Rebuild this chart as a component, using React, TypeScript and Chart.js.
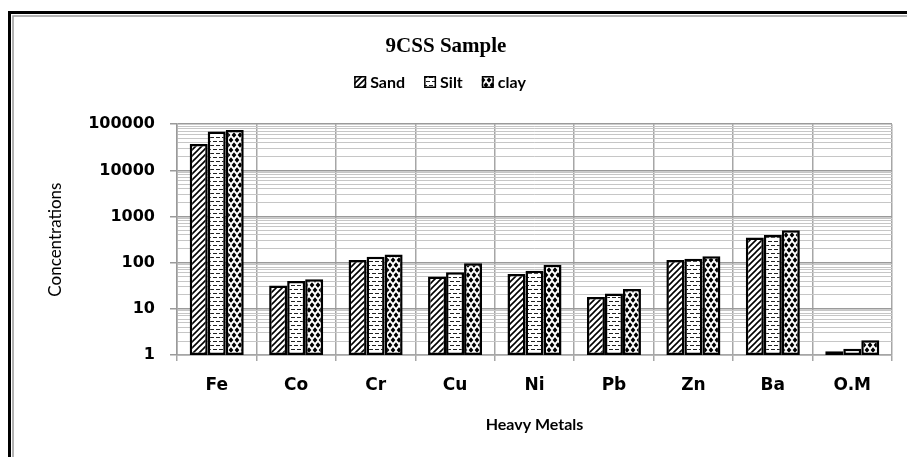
import React, { useEffect, useRef } from "react";
import { Chart, registerables } from "chart.js";
Chart.register(...registerables);

const categories = ["Fe", "Co", "Cr", "Cu", "Ni", "Pb", "Zn", "Ba", "O.M"];
const seriesNames = ["Sand", "Silt", "clay"];
const sandValues = [37400, 32, 114, 50, 57, 18, 114, 353, 1.2];
const siltValues = [69500, 40, 134, 62, 67, 21.6, 122, 400, 1.37];
const clayValues = [75000, 44, 151, 97, 90, 27, 138, 507, 2.08];
const majorTicks = [1, 10, 100, 1000, 10000, 100000];
const minorSteps = [1, 2, 3, 4, 5, 6, 7, 8, 9];
const chartTitle = "9CSS Sample";
const xAxisTitle = "Heavy Metals";
const yAxisTitle = "Concentrations";

function makePattern(kind: string): CanvasPattern | string {
  const c = document.createElement("canvas");
  const w = kind === "diamond" ? 6 : 6;
  const h = kind === "diamond" ? 10 : kind === "dash" ? 8 : 6;
  c.width = w;
  c.height = h;
  const g = c.getContext("2d");
  if (!g) return "#fff";
  g.fillStyle = "#fff";
  g.fillRect(0, 0, w, h);
  if (kind === "hatch") {
    g.strokeStyle = "#000";
    g.lineWidth = 1.6;
    g.beginPath();
    g.moveTo(-3, 3); g.lineTo(3, -3);
    g.moveTo(0, 6); g.lineTo(6, 0);
    g.moveTo(3, 9); g.lineTo(9, 3);
    g.stroke();
  } else if (kind === "dash") {
    g.fillStyle = "#222";
    g.fillRect(0, 1, 4, 1);
    g.fillRect(3, 5, 3, 1);
    g.fillRect(0, 5, 1, 1);
  } else {
    g.fillStyle = "#000";
    const diamond = (cx: number, cy: number) => {
      g.beginPath();
      g.moveTo(cx, cy - 2.7);
      g.lineTo(cx + 2.4, cy);
      g.lineTo(cx, cy + 2.7);
      g.lineTo(cx - 2.4, cy);
      g.closePath();
      g.fill();
    };
    diamond(3, 0);
    diamond(3, 10);
    diamond(0, 5);
    diamond(6, 5);
  }
  const ctx2 = document.createElement("canvas").getContext("2d");
  return ctx2 ? (ctx2.createPattern(c, "repeat") as CanvasPattern) : "#fff";
}

const framePlugin = {
  id: "frameAndLegend",
  beforeDraw(chart: any) {
    const ctx = chart.ctx;
    ctx.save();
    ctx.fillStyle = "#fff";
    ctx.fillRect(0, 0, chart.width, chart.height);
    ctx.strokeStyle = "#000";
    ctx.lineWidth = 3;
    ctx.beginPath();
    ctx.moveTo(9.5, chart.height);
    ctx.lineTo(9.5, 12.5);
    ctx.lineTo(chart.width, 12.5);
    ctx.stroke();
    ctx.strokeStyle = "#9a9a9a";
    ctx.lineWidth = 1.5;
    ctx.beginPath();
    ctx.moveTo(13, chart.height);
    ctx.lineTo(13, 16);
    ctx.lineTo(chart.width, 16);
    ctx.stroke();
    ctx.restore();
  },
  afterDraw(chart: any) {
    const ctx = chart.ctx;
    ctx.save();
    ctx.font = "bold 16px Lato";
    ctx.textBaseline = "middle";
    ctx.textAlign = "left";
    const box = 12;
    const gap = 4;
    const spacing = 19;
    const items = chart.data.datasets.map((ds: any) => ({
      label: ds.label,
      fill: ds.backgroundColor,
      w: box + gap + ctx.measureText(ds.label).width,
    }));
    const total = items.reduce((s: number, it: any) => s + it.w, 0) + spacing * (items.length - 1);
    let x = 440 - total / 2;
    const y = 82;
    for (const it of items) {
      ctx.fillStyle = it.fill;
      ctx.fillRect(x, y - box / 2, box, box);
      ctx.strokeStyle = "#000";
      ctx.lineWidth = 1.5;
      ctx.strokeRect(x + 0.75, y - box / 2 + 0.75, box - 1.5, box - 1.5);
      ctx.fillStyle = "#000";
      ctx.fillText(it.label, x + box + gap, y + 1);
      x += it.w + spacing;
    }
    ctx.restore();
  },
};

export default function App() {
  const ref = useRef<HTMLCanvasElement>(null);
  useEffect(() => {
    if (!ref.current) return;
    const patterns = [makePattern("hatch"), makePattern("dash"), makePattern("diamond")];
    const values = [sandValues, siltValues, clayValues];
    const tickValues: number[] = [];
    for (let k = 0; k < majorTicks.length - 1; k++) {
      for (const m of minorSteps) tickValues.push(m * majorTicks[k]);
    }
    tickValues.push(majorTicks[majorTicks.length - 1]);

    const chart = new Chart(ref.current, {
      type: "bar",
      data: {
        labels: categories,
        datasets: seriesNames.map((name, i) => ({
          label: name,
          data: values[i],
          backgroundColor: patterns[i] as any,
          borderColor: "#000",
          borderWidth: 2.5,
          borderSkipped: false,
          categoryPercentage: 0.68,
          barPercentage: 1.0,
        })),
      },
      options: {
        responsive: false,
        animation: false,
        layout: { padding: { left: 0, right: 15, top: 0, bottom: 0 } },
        plugins: {
          legend: { display: false },
          tooltip: { enabled: false },
          title: {
            display: true,
            text: chartTitle,
            color: "#000",
            font: { family: "Liberation Serif", weight: "bold", size: 21, lineHeight: 1.2 },
            padding: { top: 34, bottom: 65 },
          },
        },
        scales: {
          x: {
            afterFit: (s: any) => { s.height = 102; },
            grid: { offset: true, color: "#a6a6a6", lineWidth: 1.5, tickLength: 6, tickColor: "#a6a6a6" },
            border: { color: "#a6a6a6", width: 1.5 },
            ticks: {
              color: "#000",
              font: { family: "DejaVu Sans", weight: "bold", size: 17 },
              padding: 14,
              maxRotation: 0,
              autoSkip: false,
            },
            title: {
              display: true,
              text: xAxisTitle,
              color: "#000",
              font: { family: "Lato", weight: "bold", size: 16 },
              padding: { top: 0, bottom: 23 },
            },
          },
          y: {
            type: "logarithmic",
            min: 1,
            max: 100000,
            afterFit: (s: any) => { s.width = 177; },
            afterBuildTicks: (s: any) => {
              s.ticks = tickValues.map((v) => ({ value: v, major: majorTicks.includes(v) }));
            },
            ticks: {
              autoSkip: false,
              color: "#000",
              padding: 15,
              font: { family: "DejaVu Sans", weight: "bold", size: 16 },
              callback: (v: any) => (majorTicks.includes(Number(v)) ? String(v) : ""),
            },
            grid: {
              color: (ctx: any) => (ctx.tick && majorTicks.includes(ctx.tick.value) ? "#9a9a9a" : "#c6c6c6"),
              lineWidth: (ctx: any) => (ctx.tick && majorTicks.includes(ctx.tick.value) ? 1.5 : 1),
              tickLength: 7,
              tickColor: (ctx: any) => (ctx.tick && majorTicks.includes(ctx.tick.value) ? "#9a9a9a" : "rgba(0,0,0,0)"),
            },
            border: { color: "#9a9a9a", width: 1.5 },
            title: {
              display: true,
              text: yAxisTitle,
              color: "#000",
              font: { family: "Lato", size: 17 },
              padding: { top: 45, bottom: 0 },
            },
          },
        },
      },
      plugins: [framePlugin],
    });
    return () => chart.destroy();
  }, []);
  return (
    <div style={{ position: "absolute", left: 0, top: 0, width: 907, height: 457 }}>
      <canvas ref={ref} width={907} height={457} style={{ display: "block" }} />
    </div>
  );
}
